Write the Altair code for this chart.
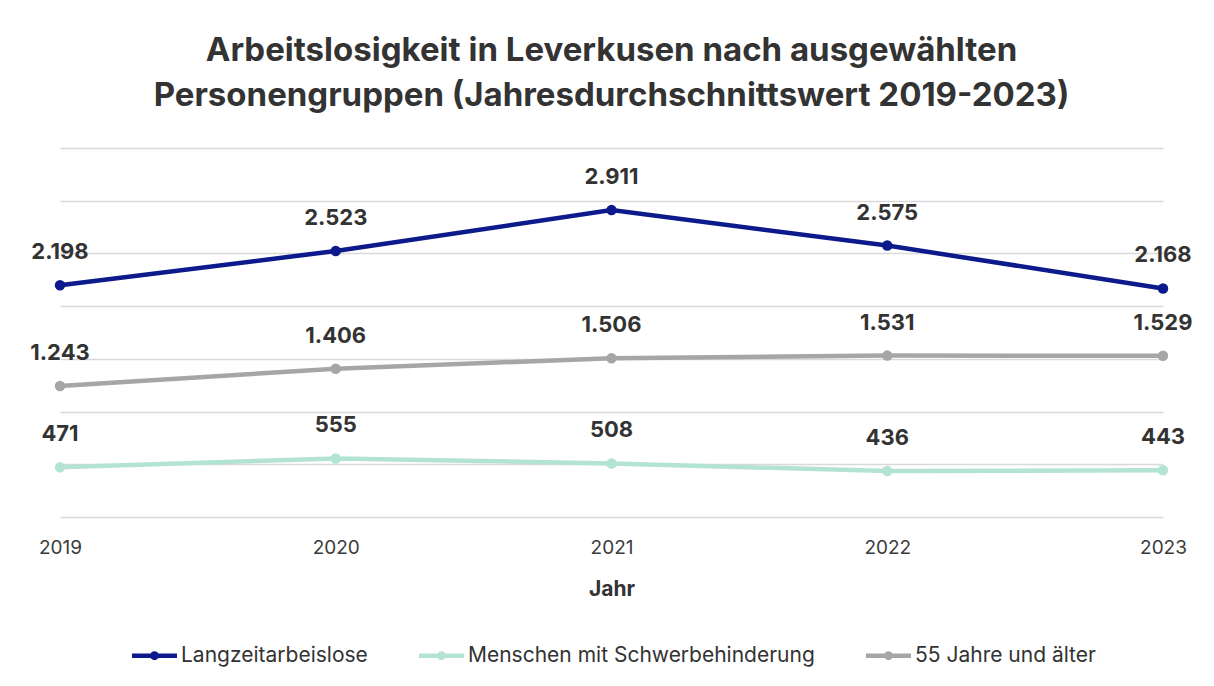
import altair as alt
import pandas as pd

years = ["2019", "2020", "2021", "2022", "2023"]
series = ["Langzeitarbeislose", "Menschen mit Schwerbehinderung", "55 Jahre und älter"]
langzeit = [2198, 2523, 2911, 2575, 2168]
schwerbehinderung = [471, 555, 508, 436, 443]
ab55 = [1243, 1406, 1506, 1531, 1529]
colors = ["#0c1a8c", "#b3e3d3", "#a6a6a6"]

rows = []
for name, vals in zip(series, [langzeit, schwerbehinderung, ab55]):
    for y, v in zip(years, vals):
        rows.append({"Jahr": y, "Gruppe": name, "Wert": v,
                     "Label": f"{v:,}".replace(",", ".")})
df = pd.DataFrame(rows)

FONT = "Inter"
legend_path = "M-5,0H5M0.5,0A0.5,0.5,0,1,1,-0.5,0A0.5,0.5,0,1,1,0.5,0"

x = alt.X("Jahr:O", title="Jahr", scale=alt.Scale(padding=0),
          axis=alt.Axis(labelAngle=0, domain=False, ticks=False, grid=False,
                        labelFontSize=19, labelColor="#3a3a3a", labelPadding=21,
                        titleFontSize=21, titleFontWeight="bold", titleColor="#333333",
                        titlePadding=21, labelFont=FONT, titleFont=FONT))
y = alt.Y("Wert:Q", title=None,
          scale=alt.Scale(domain=[0, 3500], nice=False),
          axis=alt.Axis(values=[0, 500, 1000, 1500, 2000, 2500, 3000, 3500],
                        labels=False, ticks=False, domain=False, grid=True,
                        gridColor="#d9d9d9", gridWidth=1.3))
color = alt.Color("Gruppe:N", sort=series,
                  scale=alt.Scale(domain=series, range=colors),
                  legend=alt.Legend(orient="none", legendX=84, legendY=497,
                                    direction="horizontal", title=None,
                                    symbolType=legend_path, symbolSize=81,
                                    symbolStrokeWidth=4.5, labelFontSize=21,
                                    labelColor="#333333", labelFont=FONT, labelLimit=0,
                                    labelOffset=16, columnPadding=42))

lines = alt.Chart(df).mark_line(strokeWidth=4.5, point=alt.OverlayMarkDef(size=110, filled=True)).encode(
    x=x, y=y, color=color)

labels = alt.Chart(df).mark_text(dy=-33, fontSize=22, fontWeight="bold",
                                 color="#333333", font=FONT).encode(
    x=alt.X("Jahr:O"), y=alt.Y("Wert:Q"), text="Label:N")

chart = alt.layer(lines, labels).properties(
    width=1103, height=369,
    background="white",
    padding={"left": 52, "right": 43, "top": 140, "bottom": 150},
    autosize=alt.AutoSizeParams(type="none"),
    title=alt.Title(["Arbeitslosigkeit in Leverkusen nach ausgewählten",
                     "Personengruppen (Jahresdurchschnittswert 2019-2023)"],
                    fontSize=33, font=FONT, fontWeight="bold", color="#333333",
                    lineHeight=45, anchor="middle", offset=35),
).configure_view(strokeWidth=0, stroke="transparent")

chart.save("out.html", embed_options={"renderer": "svg", "actions": False})
